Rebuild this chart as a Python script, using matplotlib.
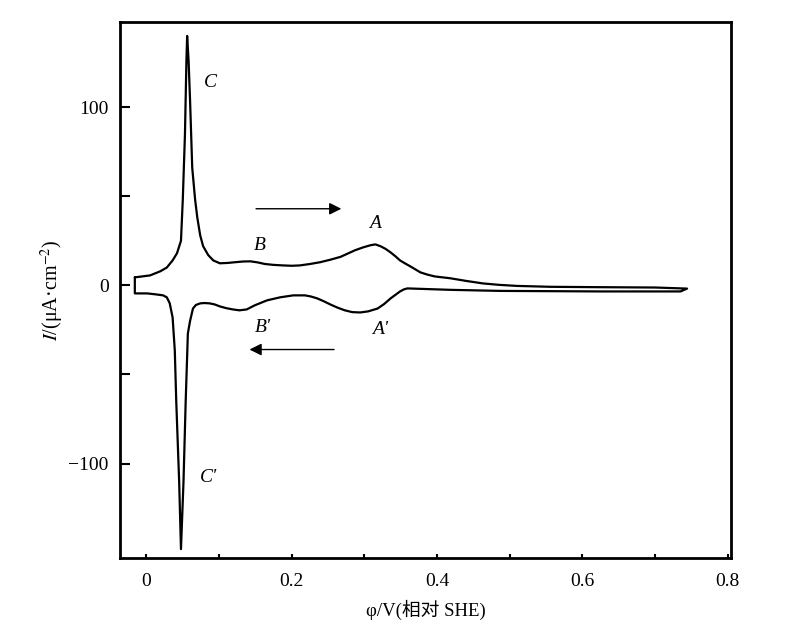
import numpy as np
import matplotlib
matplotlib.use("Agg")
import matplotlib.pyplot as plt

plt.rcParams['font.family'] = ['Liberation Serif', 'Noto Sans CJK SC']
plt.rcParams['mathtext.fontset'] = 'stix'

# anodic sweep (upper branch), potential in V vs SHE, current in uA/cm2
up_x = [-0.016, 0.005, 0.019, 0.028, 0.036, 0.042, 0.0475, 0.050, 0.053, 0.055, 0.056,
        0.058, 0.060, 0.063, 0.067, 0.070, 0.074, 0.078, 0.085, 0.092, 0.101, 0.112,
        0.122, 0.133, 0.143, 0.153, 0.163, 0.175, 0.188, 0.200, 0.211, 0.225, 0.239,
        0.253, 0.267, 0.287, 0.298, 0.308, 0.315, 0.322, 0.329, 0.336, 0.343, 0.349,
        0.356, 0.363, 0.377, 0.387, 0.397, 0.418, 0.440, 0.463, 0.485, 0.510, 0.556,
        0.62, 0.70, 0.744]
up_y = [4.5, 5.6, 7.9, 10, 14, 18, 25, 48, 85, 126, 140,
        126, 104, 66, 48, 38, 28, 22, 17, 14, 12.4, 12.6,
        13, 13.4, 13.5, 12.9, 12, 11.5, 11.2, 11.0, 11.2, 12, 13,
        14.4, 16, 19.7, 21.3, 22.5, 23, 22, 20.5, 18.5, 16.2, 14,
        12.3, 10.7, 7.3, 6, 5, 4, 2.5, 1.1, 0.3, -0.3, -0.8,
        -1.0, -1.2, -1.8]

# cathodic sweep (lower branch), from the turning point back to the start
dn_x = [0.744, 0.735, 0.625, 0.487, 0.418, 0.359, 0.354, 0.349, 0.343, 0.336, 0.327,
        0.318, 0.305, 0.294, 0.283, 0.273, 0.263, 0.253, 0.244, 0.235, 0.226, 0.218,
        0.202, 0.184, 0.166, 0.149, 0.138, 0.128, 0.119, 0.110, 0.101, 0.094, 0.087,
        0.080, 0.074, 0.068, 0.064, 0.060, 0.057, 0.054, 0.051, 0.0475, 0.045, 0.041,
        0.039, 0.036, 0.032, 0.028, 0.023, 0.012, 0.001, -0.016, -0.016]
dn_y = [-1.8, -3.4, -3.4, -3.1, -2.5, -1.7, -2.3, -3.4, -5.2, -7.3, -10.5,
        -13, -14.6, -15.2, -15, -14, -12.5, -10.7, -8.9, -7.3, -6.2, -5.6,
        -5.6, -6.7, -8.4, -11.2, -13.5, -14, -13.5, -12.8, -11.8, -10.7, -10.1,
        -9.9, -10.1, -11, -13, -20, -27, -65, -110, -148, -110, -65,
        -36.5, -18, -10, -6.7, -5.6, -5.0, -4.5, -4.5, 4.5]

peak_labels = ['C', 'B', 'A', "B'", "A'", "C'"]
peak_x = [0.088, 0.156, 0.315, 0.160, 0.322, 0.085]
peak_y = [114, 22.5, 35, -23.6, -25, -108]

fig = plt.figure(figsize=(7.89, 6.37), dpi=100)
ax = fig.add_axes([0.152, 0.124, 0.775, 0.842])

ax.plot(up_x + dn_x, up_y + dn_y, color='black', lw=1.6,
        solid_joinstyle='round', solid_capstyle='round')

for s, x, y in zip(peak_labels, peak_x, peak_y):
    ax.text(x, y, s, fontsize=14, style='italic', ha='center', va='center')

# sweep direction arrows
ax.annotate('', xy=(0.272, 43), xytext=(0.147, 43),
            arrowprops=dict(arrowstyle='-|>', color='black', lw=1.0, mutation_scale=18))
ax.annotate('', xy=(0.138, -36), xytext=(0.262, -36),
            arrowprops=dict(arrowstyle='-|>', color='black', lw=1.0, mutation_scale=18))

ax.set_xlim(-0.0365, 0.805)
ax.set_ylim(-153, 148)
ax.set_xticks([0, 0.2, 0.4, 0.6, 0.8])
ax.set_xticklabels(['0', '0.2', '0.4', '0.6', '0.8'])
ax.set_xticks(np.arange(0, 0.81, 0.1), minor=True)
ax.set_yticks([-100, 0, 100])
ax.set_yticklabels(['\u2212100', '0', '100'])
ax.set_yticks([-50, 50], minor=True)
ax.tick_params(axis='both', which='both', direction='in', labelsize=14)
ax.tick_params(axis='x', which='both', length=3, width=1.5, pad=11)
ax.tick_params(axis='y', which='both', length=7, width=1.5, pad=8)
for sp in ax.spines.values():
    sp.set_linewidth(2)

ax.set_xlabel('\u03c6/V(相对 SHE)', fontsize=13.5, labelpad=7)
ax.set_ylabel(r'$I$/(μA·cm$^{-2}$)', fontsize=14.5, labelpad=2)

fig.savefig('out.png', dpi=100)
